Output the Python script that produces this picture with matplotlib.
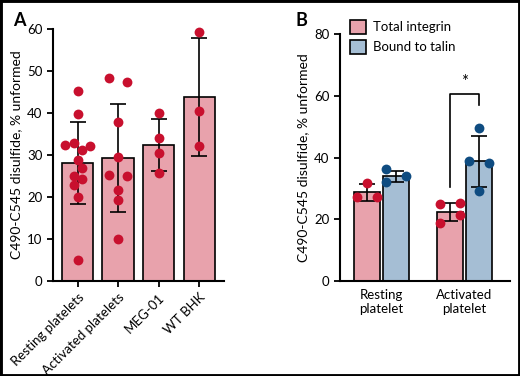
import matplotlib
matplotlib.use("Agg")
import matplotlib.pyplot as plt
import numpy as np
from matplotlib.patches import Rectangle, Patch

plt.rcParams['font.family'] = ['Lato', 'DejaVu Sans']

# ---- Panel A data ----
a_cats = ["Resting platelets", "Activated platelets", "MEG-01", "WT BHK"]
a_means = [28.1, 29.3, 32.4, 43.8]
a_sd = [9.8, 12.8, 6.2, 14.0]
a_points = [
    [45.3, 39.7, 32.5, 32.9, 31.2, 32.2, 28.7, 27.0, 25.1, 24.3, 22.9, 20.1, 5.0],
    [48.4, 47.3, 37.9, 29.6, 25.3, 25.1, 21.6, 19.3, 10.1],
    [40.1, 34.1, 30.6, 25.6],
    [59.3, 40.6, 32.1],
]
a_offsets = [
    [0, 0, -0.31, -0.1, 0.1, 0.31, 0, 0.1, -0.1, 0.1, -0.1, 0, 0],
    [-0.22, 0.22, 0, 0, -0.22, 0.22, 0, 0, 0],
    [0, 0, 0, 0],
    [0, 0, 0],
]

# ---- Panel B data ----
b_cats = ["Resting\nplatelet", "Activated\nplatelet"]
b_series = ["Total integrin", "Bound to talin"]
b_total = [28.7, 22.3]
b_total_sd = [2.8, 2.9]
b_bound = [33.9, 38.8]
b_bound_sd = [1.8, 8.3]
b_total_pts = [[31.7, 27.2, 27.2], [24.8, 25.1, 21.3, 18.6]]
b_bound_pts = [[36.2, 32.1, 34.0], [49.5, 38.8, 38.1, 29.1]]
b_total_off = [[0, -0.12, 0.12], [-0.12, 0.12, 0.12, -0.12]]
b_bound_off = [[-0.12, -0.12, 0.12], [0, -0.12, 0.12, 0]]

pink = "#E8A2AC"
red = "#C8102E"
blue_bar = "#A5BED4"
blue_dot = "#0F4C81"
ylabel = "C490-C545 disulfide, % unformed"

fig = plt.figure(figsize=(5.2, 3.76), dpi=100)
fig.patches.append(Rectangle((0, 0), 1, 1, transform=fig.transFigure,
                             fill=False, edgecolor="black", linewidth=3.5, zorder=10))

def style(ax):
    for s in ["top", "right"]:
        ax.spines[s].set_visible(False)
    for s in ["left", "bottom"]:
        ax.spines[s].set_linewidth(1.5)
    ax.tick_params(width=1.3, length=4, labelsize=9.5, direction="out")

# Panel A
axA = fig.add_axes([0.102, 0.2527, 0.329, 0.670])
x = np.arange(len(a_cats))
axA.bar(x, a_means, width=0.77, color=pink, edgecolor="black", linewidth=1.2, zorder=1)
axA.errorbar(x, a_means, yerr=a_sd, fmt="none", ecolor="black", elinewidth=1.2,
             capsize=6, capthick=1.2, zorder=2)
for i, (pts, offs) in enumerate(zip(a_points, a_offsets)):
    axA.scatter(np.array(offs) + i, pts, s=50, color=red, zorder=3, linewidths=0,
                clip_on=False)
axA.set_ylim(0, 60)
axA.set_xlim(-0.605, 3.617)
axA.set_yticks(range(0, 61, 10))
axA.set_xticks(x)
axA.set_xticklabels(a_cats, rotation=45, ha="right", rotation_mode="anchor")
axA.set_ylabel(ylabel, fontsize=10)
style(axA)
fig.text(0.025, 0.945, "A", fontsize=13, fontweight="bold", ha="left", va="center")

# Panel B
axB = fig.add_axes([0.654, 0.2535, 0.327, 0.655])
xb = np.arange(len(b_cats))
off = 0.173
w = 0.32
axB.bar(xb - off, b_total, width=w, color=pink, edgecolor="black", linewidth=1.2, zorder=1)
axB.bar(xb + off, b_bound, width=w, color=blue_bar, edgecolor="black", linewidth=1.2, zorder=1)
axB.errorbar(xb - off, b_total, yerr=b_total_sd, fmt="none", ecolor="black", elinewidth=1.2,
             capsize=5.5, capthick=1.2, zorder=2)
axB.errorbar(xb + off, b_bound, yerr=b_bound_sd, fmt="none", ecolor="black", elinewidth=1.2,
             capsize=5.5, capthick=1.2, zorder=2)
for i in range(len(b_cats)):
    axB.scatter(np.array(b_total_off[i]) + i - off, b_total_pts[i], s=50, color=red,
                zorder=3, linewidths=0)
    axB.scatter(np.array(b_bound_off[i]) + i + off, b_bound_pts[i], s=50, color=blue_dot,
                zorder=3, linewidths=0)
axB.set_ylim(0, 80)
axB.set_xlim(-0.498, 1.55)
axB.set_yticks(range(0, 81, 20))
axB.set_xticks(xb)
axB.set_xticklabels(b_cats, fontsize=9.5)
axB.set_ylabel(ylabel, fontsize=10)
style(axB)
axB.tick_params(axis="x", length=0, pad=6)
# significance bracket
xl, xr = 1 - off - 0.005, 1 + off
axB.plot([xl, xl, xr, xr], [30.3, 60.5, 60.5, 57.0], color="black", linewidth=1.2, zorder=2)
axB.text((xl + xr) / 2, 62, "*", ha="center", va="bottom", fontsize=12)
handles = [Patch(facecolor=pink, edgecolor="black", linewidth=1.2),
           Patch(facecolor=blue_bar, edgecolor="black", linewidth=1.2)]
axB.legend(handles, b_series, loc="upper left", bbox_to_anchor=(0.03, 1.08), frameon=False,
           fontsize=9.5, handlelength=1.2, handleheight=1.2, handletextpad=0.5, labelspacing=0.5,
           borderaxespad=0)
fig.text(0.569, 0.945, "B", fontsize=13, fontweight="bold", ha="left", va="center")

fig.savefig("out.png", dpi=100)
